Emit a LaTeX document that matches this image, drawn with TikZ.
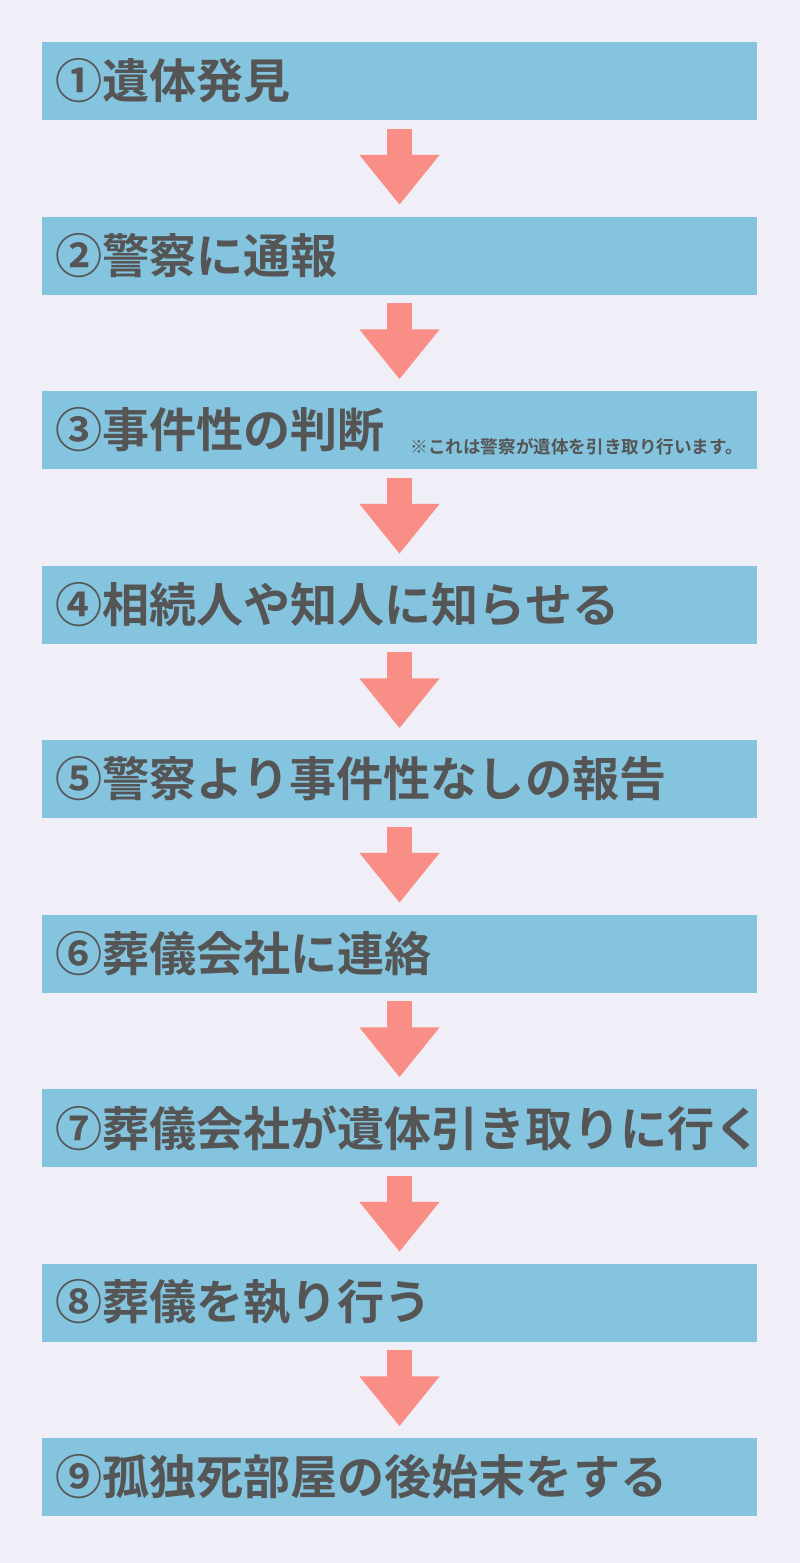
\documentclass[tikz,border=0pt]{standalone}
\usepackage{fontspec}
\newfontfamily\cjk{Noto Sans CJK JP Bold}
\usetikzlibrary{positioning, arrows.meta}
\definecolor{bgcol}{HTML}{F0EEF6}
\definecolor{boxcol}{HTML}{85C4DE}
\definecolor{arrcol}{HTML}{F98E86}
\definecolor{txtcol}{HTML}{555555}
\tikzset{
  stepbox/.style={fill=boxcol, minimum width=7.15cm, minimum height=0.78cm, inner sep=0pt},
  steptext/.style={anchor=west, text=txtcol, font=\cjk\fontsize{13.4pt}{14pt}\selectfont, inner sep=0pt},
  steparrow/.style={draw=arrcol, line width=2.5mm, -{Triangle[width=7.7mm,length=5mm]}, shorten <=0.08cm, shorten >=0.11cm}
}
\begin{document}
\begin{tikzpicture}
  \fill[bgcol] (0,0) rectangle (8,-15.63);
  \useasboundingbox (0,0) rectangle (8,-15.63);

  % boxes
  \foreach \i/\t in {1/①遺体発見, 2/②警察に通報, 3/③事件性の判断, 4/④相続人や知人に知らせる,
      5/⑤警察より事件性なしの報告, 6/⑥葬儀会社に連絡, 7/⑦葬儀会社が遺体引き取りに行く,
      8/⑧葬儀を執り行う, 9/⑨孤独死部屋の後始末をする} {
    \node[stepbox] (box\i) at (3.995, {-0.81-(\i-1)*1.745}) {};
    \node[steptext] (txt\i) at ([xshift=0.13cm]box\i.west) {\t};
  }

  % note
  \node[anchor=base west, text=txtcol, font=\cjk\fontsize{5pt}{6pt}\selectfont, inner sep=0pt]
    (note) at (4.1,-4.53) {※これは警察が遺体を引き取り行います。};

  % arrows
  \foreach \i [evaluate=\i as \j using int(\i+1)] in {1,...,8}
    \draw[steparrow] (box\i.south) -- (box\j.north);
\end{tikzpicture}
\end{document}
